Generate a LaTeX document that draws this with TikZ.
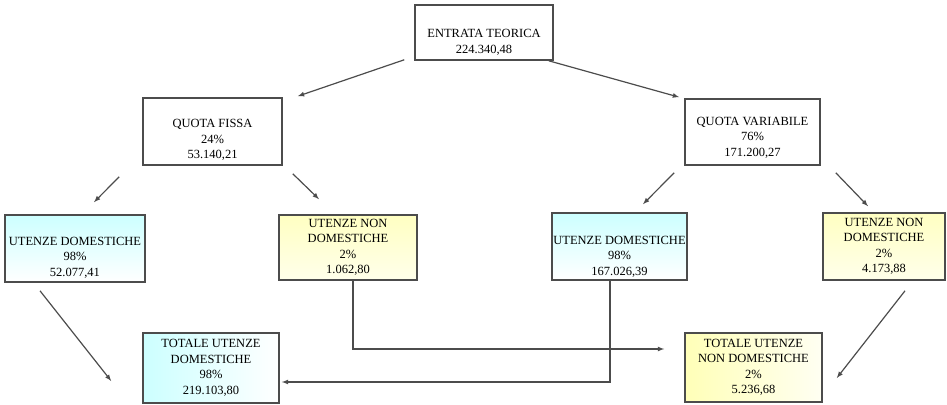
\documentclass[tikz,border=0pt]{standalone}
\usepackage{fontspec}
\setmainfont{Liberation Serif}
\newcommand\lowrule[1]{\rule{0pt}{#1}}

\begin{document}
\begin{tikzpicture}[x=1pt,y=-1pt,
  box/.style={draw=black!70,line width=1.6pt,inner sep=1pt,align=center,
    font=\fontsize{12.5}{15.5}\selectfont,text=black},
  dom/.style={box,top color=cyan!20,bottom color=white},
  nondom/.style={box,top color=yellow!24,bottom color=yellow!8},
  arr/.style={->,>=latex,draw=black!70,line width=1.2pt}]
\useasboundingbox (0,0) rectangle (947,404);
% boxes
\node[box,minimum width=138pt,minimum height=55pt] (et)at(484,32.5){\lowrule{28pt}ENTRATA TEORICA\\224.340,48};
\node[box,minimum width=139pt,minimum height=67pt] (qf)at(212.5,131.5){\lowrule{25pt}QUOTA FISSA\\24\%\\53.140,21};
\node[box,minimum width=135pt,minimum height=66pt] (qv)at(752.5,132){\lowrule{19pt}QUOTA VARIABILE\\76\%\\171.200,27};
\node[dom,minimum width=140pt,minimum height=67pt] (udf)at(75,248.5){\lowrule{26pt}UTENZE DOMESTICHE\\98\%\\52.077,41};
\node[nondom,minimum width=138pt,minimum height=65pt] (undf)at(348,247.5){UTENZE NON\\DOMESTICHE\\2\%\\1.062,80};
\node[dom,minimum width=135pt,minimum height=67pt] (udv)at(619.5,246.5){\lowrule{28pt}UTENZE DOMESTICHE\\98\%\\167.026,39};
\node[nondom,minimum width=122pt,minimum height=67pt] (undv)at(884,246.5){UTENZE NON\\DOMESTICHE\\2\%\\4.173,88};
\node[box,left color=cyan!20,right color=white,minimum width=136pt,minimum height=70pt] (tud)at(211,368){TOTALE UTENZE\\DOMESTICHE\\98\%\\219.103,80};
\node[box,left color=yellow!28,right color=yellow!5,minimum width=137pt,minimum height=69pt] (tund)at(753.5,367.5){TOTALE UTENZE\\NON DOMESTICHE\\2\%\\5.236,68};
% arrows
\draw[arr] ([shift={(-10,-1)}]et.south west) -- ([shift={(15,-1)}]qf.north east);
\draw[arr] ([shift={(-5,0)}]et.south east) -- ([shift={(-5,-1)}]qv.north west);
\draw[arr] ([shift={(-23,11)}]qf.south west) -- ([shift={(19,-12)}]udf.north);
\draw[arr] ([shift={(10,8)}]qf.south east) -- ([shift={(-29,-15)}]undf.north);
\draw[arr] ([shift={(-10,7)}]qv.south west) -- ([shift={(23.5,-8)}]udv.north);
\draw[arr] ([shift={(15,7)}]qv.south east) -- ([shift={(-16,-6)}]undv.north);
\draw[arr] ([shift={(-35,8)}]udf.south) -- ([shift={(-31,13)}]tud.west);
\draw[arr] ([shift={(21,10)}]undv.south) -- ([shift={(14,10.5)}]tund.east);
\draw[arr] ([shift={(5,0)}]undf.south) |- ([shift={(-20,-18.5)}]tund.west);
\draw[arr] ([shift={(-9.5,0)}]udv.south) |- ([shift={(2,14)}]tud.east);
\end{tikzpicture}
\end{document}
